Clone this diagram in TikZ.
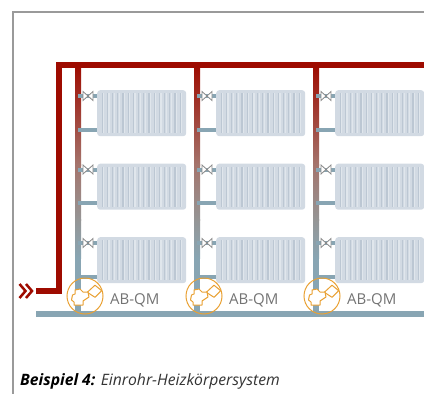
\documentclass[tikz,border=0pt]{standalone}
\usepackage{fontspec}
\setmainfont{Open Sans}
\definecolor{framegray}{HTML}{9A9A9A}
\definecolor{pipered}{HTML}{9E0B00}
\definecolor{pipewarm}{HTML}{A4746C}
\definecolor{pipemid}{HTML}{959595}
\definecolor{pipeblue}{HTML}{88A5B3}
\definecolor{radfill}{HTML}{D2DAE3}
\definecolor{radline}{HTML}{BCC7D3}
\definecolor{radlight}{HTML}{E0E6EC}
\definecolor{valvegray}{HTML}{8A8A8A}
\definecolor{qmorange}{HTML}{E9A134}
\tikzset{
  redpipe/.style={draw=pipered,line width=6pt},
  bluepipe/.style={draw=pipeblue,line width=5.5pt},
  stub/.style={draw=pipeblue,line width=4pt},
  radiator/.style={fill=radfill,rounded corners=3pt,minimum width=89pt,minimum height=46pt,
    inner sep=0pt,anchor=north west},
  qmring/.style={circle,draw=qmorange,line width=1pt,minimum size=36pt,inner sep=0pt},
  qmlabel/.style={text=black!55,font=\fontsize{15}{15}\selectfont,anchor=west,inner sep=0pt},
  qmbody/.style={draw=qmorange,line width=1pt,fill=white,line join=round},
  valveline/.style={draw=valvegray,line width=0.8pt,fill=white},
  chevron/.style={draw=pipered,line width=2.5pt}
}
\begin{document}
\begin{tikzpicture}[x=1pt,y=-1pt]
  \useasboundingbox (0,0) rectangle (424,394);
  % frame
  \coordinate (frameA) at (424,12);
  \coordinate (frameB) at (13,12);
  \coordinate (frameC) at (13,394);
  \draw[framegray,line width=1.4pt] (frameA) -- (frameB) -- (frameC);
  % risers and radiators
  \foreach \x/\n in {78/a,197/b,316/c}{
    \shade[top color=pipered,bottom color=pipewarm] (\x-3,65) rectangle (\x+3,165);
    \shade[top color=pipewarm,bottom color=pipemid] (\x-3,164.5) rectangle (\x+3,220);
    \shade[top color=pipemid,bottom color=pipeblue] (\x-3,219.5) rectangle (\x+3,258);
    \fill[pipeblue] (\x-3,257.5) rectangle (\x+3,314);
    \foreach \y/\m in {90/1,163.5/2,237/3}{
      \node[radiator] (rad\n\m) at (\x+19,\y) {};
      \foreach \s in {1,...,16}{
        \draw[radline,line width=1.2pt] ([xshift=\s*5.2pt,yshift=-3pt]rad\n\m.north west)
          -- ([xshift=\s*5.2pt,yshift=3pt]rad\n\m.south west);
        \draw[radlight,line width=1.2pt] ([xshift=\s*5.2pt+1.6pt,yshift=-3pt]rad\n\m.north west)
          -- ([xshift=\s*5.2pt+1.6pt,yshift=3pt]rad\n\m.south west);
      }
      \coordinate (in\n\m) at (\x,\y+6);
      \coordinate (out\n\m) at (\x,\y+39.5);
      \draw[stub] (in\n\m) -- (in\n\m -| rad\n\m.west);
      \draw[stub] (out\n\m) -- (out\n\m -| rad\n\m.west);
      \draw[valveline] (\x+5,\y+1.5) -- (\x+15,\y+10.5) -- (\x+15,\y+1.5) -- (\x+5,\y+10.5) -- cycle;
    }
  }
  % supply and return
  \coordinate (supplyin) at (36,291);
  \coordinate (supplyup) at (59,291);
  \coordinate (supplytop) at (59,65);
  \coordinate (supplyend) at (424,65);
  \draw[redpipe,line join=miter] (supplyin) -- (supplyup) -- (supplytop) -- (supplyend);
  \coordinate (returnin) at (36,314);
  \coordinate (returnend) at (424,314);
  \draw[bluepipe] (returnin) -- (returnend);
  % inlet mark
  \draw[chevron] (19.5,284) -- (25.5,291) -- (19.5,298);
  \draw[chevron] (26,284) -- (32,291) -- (26,298);
  % balancing valves
  \foreach \x/\n in {85/a,204/b,322/c}{
    \begin{scope}[shift={(\x,296)}]
      \node[qmring] (qm\n) at (0,0) {};
      \draw[qmbody] (2.3,-3.7) -- (10,-10.8) -- (16.7,-5.3) -- (10,1.3) -- cycle;
      \draw[qmbody] (-12.5,-1) -- (-10,-2) -- (-10,-6) -- (-5,-7) -- (-2,-4) -- (3,-4) -- (4,1)
        -- (-2,5) -- (-2,9) -- (-11,9) -- (-11,6) -- (-13.5,4) -- cycle;
    \end{scope}
    \node[qmlabel] (lab\n) at (\x+25,300.5) {AB-QM};
  }
  % caption
  \node[anchor=west,inner sep=0pt,font=\fontsize{15.7}{16}\selectfont\itshape] (caption) at (20,381)
    {\textbf{Beispiel 4:} \textcolor{black!80}{Einrohr-Heizkörpersystem}};
\end{tikzpicture}
\end{document}
